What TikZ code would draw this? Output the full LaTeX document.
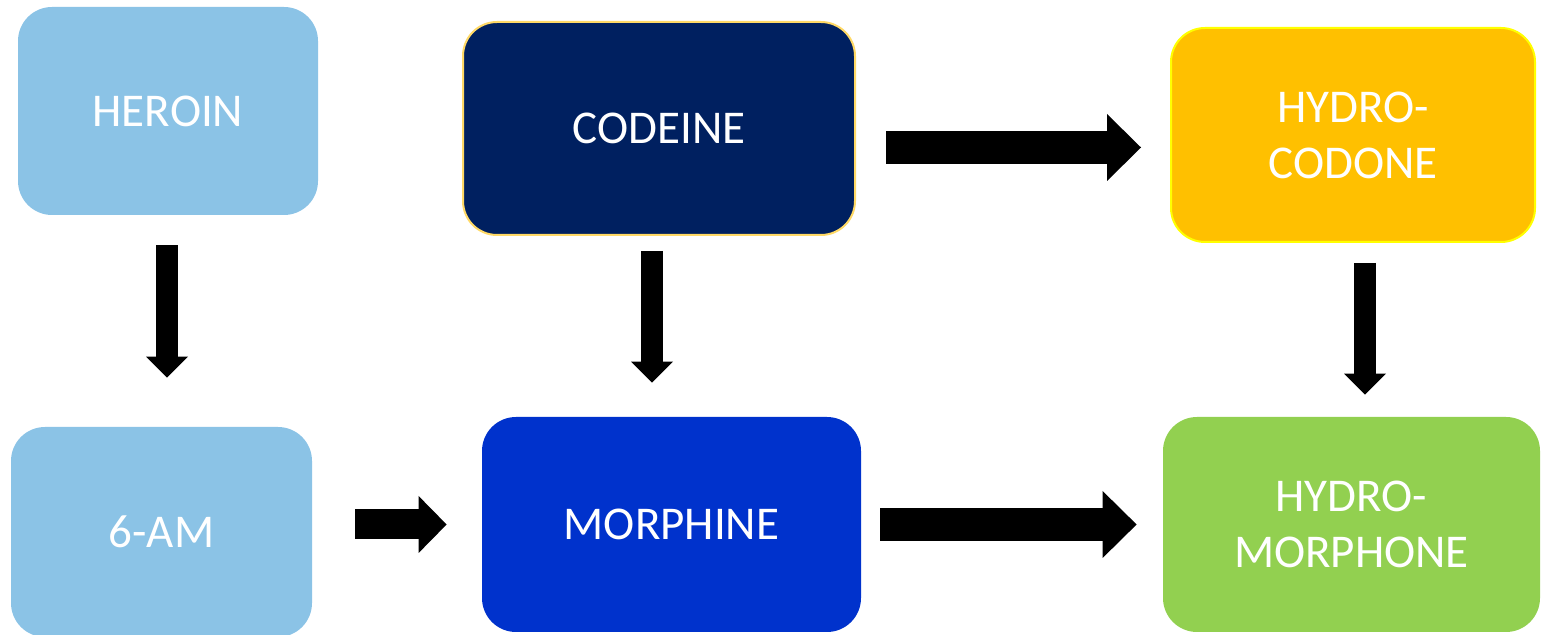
\documentclass[tikz,border=0pt]{standalone}
\usepackage{fontspec}
\setmainfont{Carlito}
\usetikzlibrary{arrows.meta}

\definecolor{heroinblue}{RGB}{139,195,230}
\definecolor{codeinenavy}{RGB}{0,32,96}
\definecolor{codeinerim}{RGB}{255,217,102}
\definecolor{codoneamber}{RGB}{255,192,0}
\definecolor{codonerim}{RGB}{255,255,0}
\definecolor{morphineblue}{RGB}{0,50,204}
\definecolor{morphonegreen}{RGB}{146,208,80}

\tikzstyle{drug} = [align=center,rectangle,rounded corners=17pt,inner sep=0pt,text=white,font=\fontsize{23.5}{28}\selectfont]
\tikzstyle{vflow} = [line width=11pt,-{Triangle[length=10.5pt,width=21pt,line width=0pt]}]
\tikzstyle{hflow} = [line width=16.5pt,-{Triangle[length=17pt,width=33.5pt,line width=0pt]}]
\tikzstyle{sflow} = [line width=15pt,-{Triangle[length=14pt,width=28.5pt,line width=0pt]}]

\begin{document}
\begin{tikzpicture}[x=0.5pt,y=-0.5pt]
	\useasboundingbox (0,0) rectangle (1543,635);
	\node (heroin) [drug,fill=heroinblue,minimum width=150pt,minimum height=104pt] at (168,111) {HEROIN};
	\node (sixam) [drug,fill=heroinblue,minimum width=150.5pt,minimum height=105pt] at (161.5,532) {6-AM};
	\node (codeine) [drug,fill=codeinenavy,draw=codeinerim,line width=1pt,minimum width=196pt,minimum height=106.5pt] at (659,128.5) {CODEINE};
	\node (hydrocodone) [drug,fill=codoneamber,draw=codonerim,line width=1pt,minimum width=182pt,minimum height=107pt] at (1353,135) {HYDRO-\\CODONE};
	\node (morphine) [drug,fill=morphineblue,minimum width=189.5pt,minimum height=107.5pt] at (671.5,524.5) {MORPHINE};
	\node (hydromorphone) [drug,fill=morphonegreen,minimum width=188.5pt,minimum height=107.5pt] at (1351.5,524.5) {HYDRO-\\MORPHONE};
	\draw [vflow,shorten <=15pt,shorten >=24.5pt] ([xshift=-0.5pt]heroin.south) -- ([xshift=-0.5pt]heroin.south |- sixam.north);
	\draw [vflow,shorten <=7.5pt,shorten >=17pt] ([xshift=-3.5pt]codeine.south) -- ([xshift=-3.5pt]codeine.south |- morphine.north);
	\draw [vflow,shorten <=10pt,shorten >=11pt] ([xshift=6pt]hydrocodone.south) -- ([xshift=6pt]hydrocodone.south |- hydromorphone.north);
	\draw [sflow,shorten <=21.5pt,shorten >=17.5pt] (sixam.east |- morphine.west) -- (morphine.west);
	\draw [hflow,shorten <=15pt,shorten >=14.5pt] ([yshift=-9.5pt]codeine.east) -- ([yshift=-9.5pt]codeine.east -| hydrocodone.west);
	\draw [hflow,shorten <=9.5pt,shorten >=13pt] (morphine.east) -- (hydromorphone.west);
\end{tikzpicture}
\end{document}
